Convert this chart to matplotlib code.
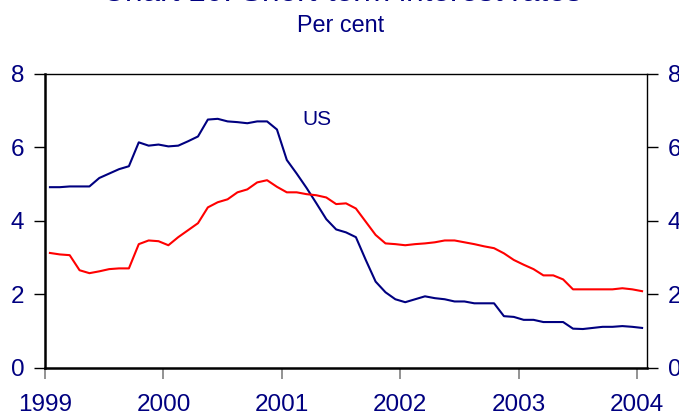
import numpy as np
import matplotlib.pyplot as plt

plt.rcParams['font.family'] = ['Liberation Sans', 'DejaVu Sans']

navy = '#000080'

# monthly data, Jan 1999 - Jan 2004
us = [4.92, 4.92, 4.94, 4.94, 4.94, 5.17, 5.29, 5.41, 5.49, 6.14,
      6.05, 6.08, 6.03, 6.05, 6.17, 6.30, 6.76, 6.78, 6.71, 6.69,
      6.66, 6.71, 6.71, 6.49, 5.66, 5.29, 4.90, 4.48, 4.05, 3.77,
      3.69, 3.56, 2.94, 2.35, 2.06, 1.87, 1.79, 1.87, 1.95, 1.90,
      1.87, 1.81, 1.81, 1.76, 1.76, 1.76, 1.41, 1.39, 1.31, 1.31,
      1.25, 1.25, 1.25, 1.07, 1.06, 1.09, 1.12, 1.12, 1.14, 1.12,
      1.09]
euro = [3.13, 3.09, 3.07, 2.66, 2.58, 2.63, 2.69, 2.71, 2.71, 3.37,
        3.47, 3.45, 3.34, 3.56, 3.75, 3.94, 4.37, 4.51, 4.59, 4.78,
        4.86, 5.05, 5.11, 4.93, 4.78, 4.78, 4.73, 4.70, 4.64, 4.46,
        4.48, 4.34, 3.98, 3.62, 3.39, 3.37, 3.34, 3.37, 3.39, 3.42,
        3.47, 3.47, 3.42, 3.37, 3.31, 3.26, 3.12, 2.94, 2.81, 2.69,
        2.52, 2.52, 2.41, 2.14, 2.14, 2.14, 2.14, 2.14, 2.17, 2.14,
        2.09]
years = [1999, 2000, 2001, 2002, 2003, 2004]

# mid-month positions
x = 1999 + (np.arange(len(us)) + 0.5) / 12

fig = plt.figure(figsize=(6.79, 4.15), dpi=100)
ax = fig.add_axes([0.0663, 0.1133, 0.8866, 0.7084])

ax.plot(x, us, color=navy, lw=1.5)
ax.plot(x, euro, color='#ff0000', lw=1.5)

ax.set_xlim(1999, 1999 + len(us) / 12)
ax.set_ylim(0, 8)
ax.set_xticks(years)
ax.set_xticklabels([str(y) for y in years])
ax.set_yticks([0, 2, 4, 6, 8])

ax.tick_params(axis='x', direction='out', length=8, width=1.2, color='#808080',
               labelsize=17.5, labelcolor=navy, pad=11)
ax.tick_params(axis='y', direction='out', length=8, width=1, color='black',
               labelsize=17.5, labelcolor=navy, pad=7,
               right=True, labelright=True)

for s in ['left', 'bottom']:
    ax.spines[s].set_linewidth(1.8)
for s in ['top', 'right']:
    ax.spines[s].set_linewidth(1.0)

ax.text(2001.3, 6.76, 'US', color=navy, fontsize=15, ha='center', va='center')

fig.text(0.504, 0.997, 'Chart 10: Short-term interest rates', color=navy,
         fontsize=22.8, ha='center', va='baseline')
fig.text(0.502, 0.923, 'Per cent', color=navy, fontsize=16.8,
         ha='center', va='baseline')

fig.savefig('out.png', dpi=100)
